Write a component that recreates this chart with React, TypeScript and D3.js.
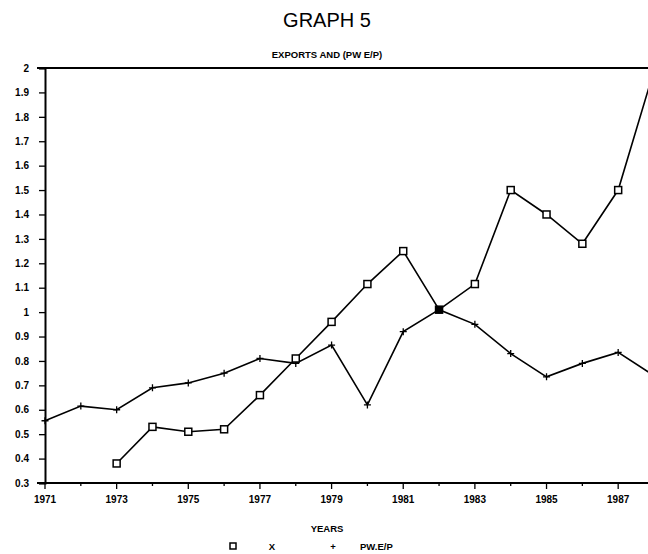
import * as d3 from 'd3';
import { useLayoutEffect, useRef } from 'react';

const years = [1971, 1972, 1973, 1974, 1975, 1976, 1977, 1978, 1979, 1980, 1981, 1982, 1983, 1984, 1985, 1986, 1987, 1988];
const pwEP = [0.555, 0.615, 0.6, 0.69, 0.71, 0.75, 0.81, 0.79, 0.865, 0.62, 0.92, 1.01, 0.95, 0.83, 0.735, 0.79, 0.835, 0.74];
const xYears = [1973, 1974, 1975, 1976, 1977, 1978, 1979, 1980, 1981, 1982, 1983, 1984, 1985, 1986, 1987, 1988];
const xExports = [0.38, 0.53, 0.51, 0.52, 0.66, 0.81, 0.96, 1.115, 1.25, 1.01, 1.115, 1.5, 1.4, 1.28, 1.5, 1.99];
const yTicks = [0.3, 0.4, 0.5, 0.6, 0.7, 0.8, 0.9, 1, 1.1, 1.2, 1.3, 1.4, 1.5, 1.6, 1.7, 1.8, 1.9, 2];
const xTickLabels = [1971, 1973, 1975, 1977, 1979, 1981, 1983, 1985, 1987];

const width = 648;
const height = 554;
const font = 'Liberation Sans, Arial, Helvetica, sans-serif';

const App = () => {
  const ref = useRef<SVGSVGElement>(null);

  useLayoutEffect(() => {
    const svg = d3.select(ref.current);
    svg.selectAll('*').remove();

    const x = d3.scaleLinear().domain([1971, 1988]).range([45, 654]);
    const y = d3.scaleLinear().domain([0.3, 2]).range([483, 68]);

    svg
      .append('text')
      .attr('x', 327)
      .attr('y', 27)
      .attr('text-anchor', 'middle')
      .attr('font-family', font)
      .attr('font-size', 20)
      .text('GRAPH 5');

    svg
      .append('text')
      .attr('x', 327)
      .attr('y', 58)
      .attr('text-anchor', 'middle')
      .attr('font-family', font)
      .attr('font-weight', 'bold')
      .attr('font-size', 9.5)
      .text('EXPORTS AND (PW E/P)');

    // y axis
    const yAxis = d3
      .axisLeft(y)
      .tickValues(yTicks)
      .tickSize(6)
      .tickPadding(10)
      .tickFormat((d) => (d === 1 || d === 2 ? String(d) : d3.format('.1f')(d as number)));
    const gy = svg.append('g').attr('transform', `translate(${x(1971)},0)`).call(yAxis);
    gy.select('.domain').attr('stroke-width', 2);
    gy.selectAll('.tick line').attr('stroke-width', 1.3);
    gy.selectAll('text')
      .attr('font-family', font)
      .attr('font-weight', 'bold')
      .attr('font-size', 10);

    // x axis: major ticks every other year, minor between
    const gx = svg.append('g').attr('transform', `translate(0,${y(0.3)})`);
    gx.append('line')
      .attr('x1', x(1971) - 8)
      .attr('x2', width)
      .attr('stroke', '#000')
      .attr('stroke-width', 2);
    gx.selectAll('line.tk')
      .data(years)
      .join('line')
      .attr('class', 'tk')
      .attr('x1', (d) => x(d))
      .attr('x2', (d) => x(d))
      .attr('y1', 0)
      .attr('y2', (d) => (xTickLabels.includes(d) ? 6 : 3))
      .attr('stroke', '#000')
      .attr('stroke-width', 1.3);
    gx.selectAll('text')
      .data(xTickLabels)
      .join('text')
      .attr('x', (d) => x(d))
      .attr('y', 20)
      .attr('text-anchor', 'middle')
      .attr('font-family', font)
      .attr('font-weight', 'bold')
      .attr('font-size', 10)
      .text((d) => d);

    // top frame
    svg
      .append('line')
      .attr('x1', x(1971) - 8)
      .attr('x2', width)
      .attr('y1', y(2))
      .attr('y2', y(2))
      .attr('stroke', '#000')
      .attr('stroke-width', 2);

    const line = d3
      .line<[number, number]>()
      .x((d) => x(d[0]))
      .y((d) => y(d[1]));

    const pwData: [number, number][] = years.map((yr, i) => [yr, pwEP[i]]);
    const xData: [number, number][] = xYears.map((yr, i) => [yr, xExports[i]]);

    svg
      .append('path')
      .datum(pwData)
      .attr('fill', 'none')
      .attr('stroke', '#000')
      .attr('stroke-width', 1.6)
      .attr('d', line);

    svg
      .append('path')
      .datum(xData)
      .attr('fill', 'none')
      .attr('stroke', '#000')
      .attr('stroke-width', 1.6)
      .attr('d', line);

    // plus markers
    svg
      .append('g')
      .selectAll('path')
      .data(pwData)
      .join('path')
      .attr('d', (d) => {
        const cx = x(d[0]);
        const cy = y(d[1]);
        return `M${cx - 3.5},${cy}H${cx + 3.5}M${cx},${cy - 3.5}V${cy + 3.5}`;
      })
      .attr('stroke', '#000')
      .attr('stroke-width', 1.3);

    // square markers
    svg
      .append('g')
      .selectAll('rect')
      .data(xData)
      .join('rect')
      .attr('x', (d) => x(d[0]) - 3.5)
      .attr('y', (d) => y(d[1]) - 3.5)
      .attr('width', 7)
      .attr('height', 7)
      .attr('fill', (d) => (d[0] === 1982 ? '#000' : '#fff'))
      .attr('stroke', '#000')
      .attr('stroke-width', 1.5);

    svg
      .append('text')
      .attr('x', 327)
      .attr('y', 532)
      .attr('text-anchor', 'middle')
      .attr('font-family', font)
      .attr('font-weight', 'bold')
      .attr('font-size', 9.5)
      .text('YEARS');

    // legend
    const lg = svg.append('g').attr('font-family', font).attr('font-weight', 'bold').attr('font-size', 9.5);
    lg.append('rect')
      .attr('x', 230)
      .attr('y', 543)
      .attr('width', 6)
      .attr('height', 6)
      .attr('fill', '#fff')
      .attr('stroke', '#000')
      .attr('stroke-width', 1.5);
    lg.append('text').attr('x', 272).attr('y', 550).attr('text-anchor', 'middle').text('X');
    lg.append('text').attr('x', 333).attr('y', 550).attr('text-anchor', 'middle').text('+');
    lg.append('text').attr('x', 360).attr('y', 550).text('PW.E/P');
  }, []);

  return (
    <svg
      ref={ref}
      width={width}
      height={height}
      style={{ position: 'absolute', left: 0, top: 0, background: '#fff' }}
    />
  );
};

export default App;
